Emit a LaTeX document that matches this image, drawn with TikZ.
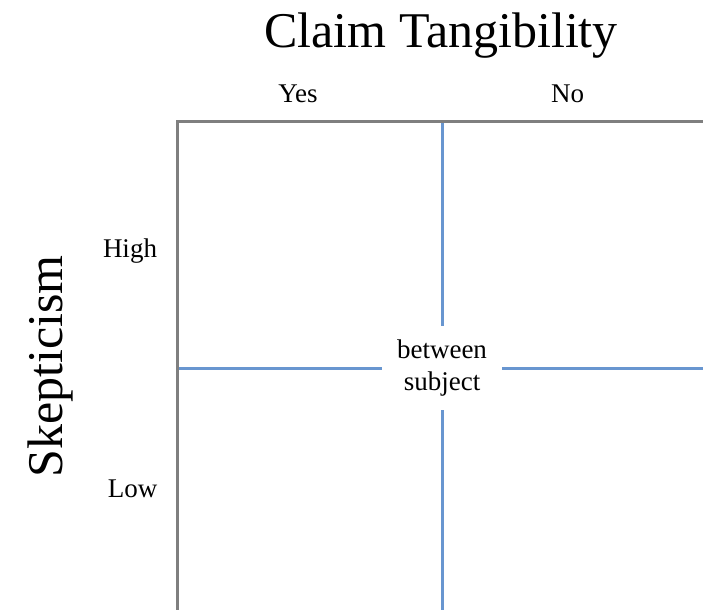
\documentclass[tikz,border=0pt]{standalone}
\usepackage{fontspec}
\setmainfont{Liberation Serif}
\definecolor{framegray}{HTML}{7F7F7F}
\definecolor{lineblue}{HTML}{6896D0}
\begin{document}
\begin{tikzpicture}[x=1pt,y=-1pt,
  bigtext/.style={font=\fontsize{50}{60}\selectfont, inner sep=0pt, anchor=base},
  smalltext/.style={font=\fontsize{27}{31}\selectfont, inner sep=0pt, anchor=base},
  frameline/.style={draw=framegray, line width=3.2pt},
  divline/.style={draw=lineblue, line width=3pt}]
\useasboundingbox (0,0) rectangle (703,610);
% dividing line end points
\coordinate (vt) at (442,122);
\coordinate (vb) at (442,610);
\coordinate (hl) at (178,368);
\coordinate (hr) at (703,368);
% labels
\node[bigtext] (title) at (441,48) {Claim Tangibility};
\node[smalltext] (yes) at (298,102) {Yes};
\node[smalltext] (no) at (567.5,102) {No};
\node[smalltext] (high) at (130,257) {High};
\node[smalltext] (low) at (132.5,497) {Low};
\node[bigtext, rotate=90] (skep) at (62,366.5) {Skepticism};
% centre label
\node[font=\fontsize{27}{32}\selectfont, align=center, inner sep=0pt,
      minimum width=120pt, minimum height=84pt] (mid) at (442,368) {between\\subject};
% dividing lines
\draw[divline] (vt) -- (mid.north);
\draw[divline] (mid.south) -- (vb);
\draw[divline] (hl) -- (hl -| mid.west);
\draw[divline] (hr -| mid.east) -- (hr);
% frame
\coordinate (tr) at (703,121.5);
\coordinate (tl) at (177.5,121.5);
\coordinate (bl) at (177.5,610);
\draw[frameline] (tr) -- (tl) -- (bl);
\end{tikzpicture}
\end{document}
